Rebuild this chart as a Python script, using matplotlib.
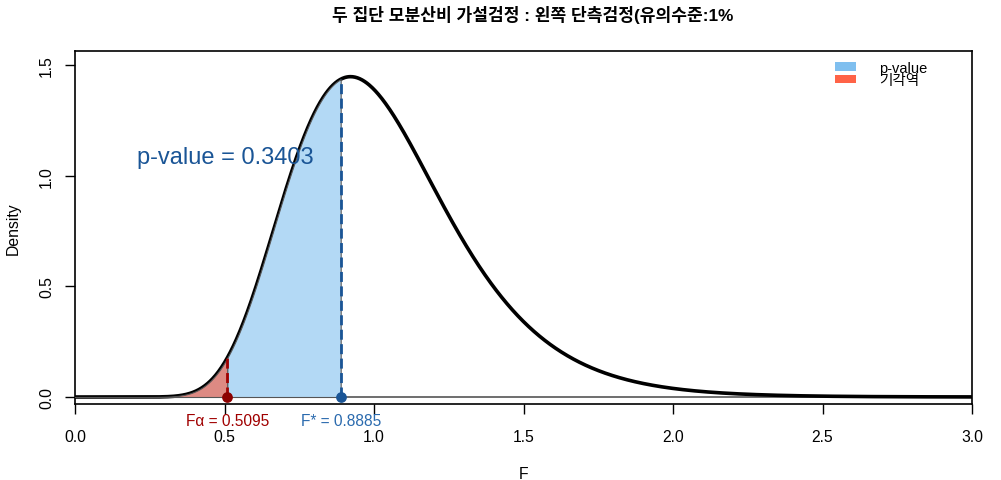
import math
import numpy as np
import matplotlib
matplotlib.use("Agg")
import matplotlib.pyplot as plt
from matplotlib.patches import Patch

plt.rcParams['font.family'] = ['Liberation Sans', 'Noto Sans CJK KR', 'DejaVu Sans']

# data
df1 = 49
df2 = 49
f_alpha = 0.5095
f_star = 0.8885
p_value = 0.3403
x_ticks = [0.0, 0.5, 1.0, 1.5, 2.0, 2.5, 3.0]
y_ticks = [0.0, 0.5, 1.0, 1.5]
legend_labels = ["p-value", "기각역"]
title = "두 집단 모분산비 가설검정 : 왼쪽 단측검정(유의수준:1%"


def fpdf(x, d1, d2):
    x = np.asarray(x, dtype=float)
    out = np.zeros_like(x)
    m = x > 0
    lb = math.lgamma(d1 / 2) + math.lgamma(d2 / 2) - math.lgamma((d1 + d2) / 2)
    xm = x[m]
    logp = (d1 / 2) * np.log(d1 / d2) + (d1 / 2 - 1) * np.log(xm) \
        - ((d1 + d2) / 2) * np.log1p(d1 * xm / d2) - lb
    out[m] = np.exp(logp)
    return out


W, H = 1001, 481
fig = plt.figure(figsize=(W / 100, H / 100), dpi=100)
ax = fig.add_axes([75 / W, (H - 405) / H, (972 - 75) / W, (405 - 52) / H])

xs = np.linspace(0, 3, 1500)
ys = fpdf(xs, df1, df2)
ax.plot(xs, ys, color='black', lw=2.6, zorder=2, solid_capstyle='butt')
ax.axhline(0, color='#555555', lw=1.2, zorder=1)

xr = np.linspace(0, f_alpha, 300)
ax.fill_between(xr, 0, fpdf(xr, df1, df2), facecolor='#DD8A83', edgecolor='#555555',
                lw=0.8, zorder=3)
xp = np.linspace(f_alpha, f_star, 300)
ax.fill_between(xp, 0, fpdf(xp, df1, df2), facecolor='#B3D9F5', edgecolor='#555555',
                lw=0.8, zorder=3)

ya = fpdf([f_alpha], df1, df2)[0]
ysr = fpdf([f_star], df1, df2)[0]
ax.plot([f_alpha, f_alpha], [0, ya], color='#A00000', lw=2, ls=(0, (3.6, 1.6)), zorder=4)
ax.plot([f_star, f_star], [0, ysr], color='#1A5596', lw=2, ls=(0, (3.6, 1.6)), zorder=4)
ax.scatter([f_alpha], [0], s=45, color='#8B0000', zorder=5)
ax.scatter([f_star], [0], s=45, color='#1A5596', zorder=5)

ax.text(f_alpha, -0.106, f"Fα = {f_alpha:.4f}", color='#A00000', fontsize=11.2,
        ha='center', va='center', clip_on=False)
ax.text(f_star, -0.106, f"F* = {f_star:.4f}", color='#2A6AAE', fontsize=11.2,
        ha='center', va='center', clip_on=False)
ax.text(0.503, 1.085, f"p-value = {p_value}", color='#1A5596', fontsize=17,
        ha='center', va='center')

ax.set_xlim(0, 3)
ax.set_ylim(-0.0316, 1.563)
ax.set_xticks(x_ticks)
ax.set_xticklabels([f"{t:.1f}" for t in x_ticks], fontsize=11.3)
ax.set_yticks(y_ticks)
ax.set_yticklabels([f"{t:.1f}" for t in y_ticks], fontsize=11.3, rotation=90, va='center')
ax.tick_params(direction='out', length=7, width=1, pad=11)
ax.tick_params(axis='y', pad=8)
for s in ax.spines.values():
    s.set_linewidth(1.2)

ax.set_xlabel("F", fontsize=11.3, labelpad=16)
ax.set_ylabel("Density", fontsize=11.3, labelpad=13)

handles = [Patch(facecolor='#7FBFEF', edgecolor='none'), Patch(facecolor='#FF6347', edgecolor='none')]
leg = ax.legend(handles, legend_labels, loc='upper right', bbox_to_anchor=(0.965, 1.01),
                frameon=False, fontsize=10.5, handlelength=1.4, handleheight=0.5,
                labelspacing=-0.1, handletextpad=1.6)

fig.text(0.532, 1 - 15 / H, title, ha='center', va='center', fontsize=12.3, fontweight='bold',
         family=['Liberation Sans', 'Noto Sans CJK KR'])

fig.savefig("out.png", dpi=100)
